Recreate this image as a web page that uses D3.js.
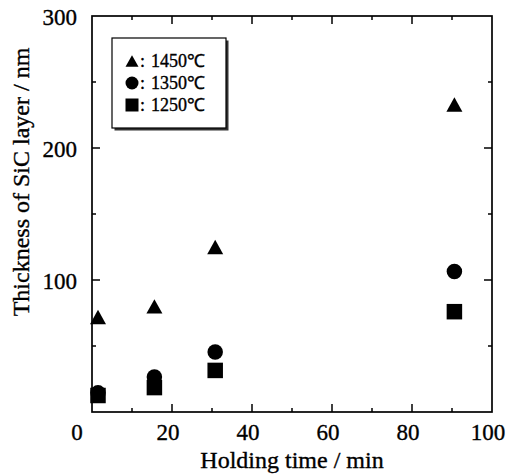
<!DOCTYPE html>
<html>
<head>
<meta charset="utf-8">
<script src="https://cdn.jsdelivr.net/npm/d3@7"></script>
<style>
  body { margin: 0; background: #fff; }
  text { font-family: "Liberation Serif", "Times New Roman", serif; fill: #000; stroke: #000; stroke-width: 0.35px; }
</style>
</head>
<body>
<svg id="chart" width="507" height="475"></svg>
<script>
// holding time (min) for each sample
var times = [1.5, 15.6, 30.8, 90.6];
// thickness of SiC layer (nm) per temperature
var t1450 = [72, 80, 125, 233];
var t1350 = [14.5, 26.5, 45.5, 106.5];
var t1250 = [12.5, 18.5, 31.5, 76];
var seriesNames = ["1450℃", "1350℃", "1250℃"];
var seriesShapes = ["triangle", "circle", "square"];
var xTicks = [0, 20, 40, 60, 80, 100];
var yTicks = [100, 200, 300];

var svg = d3.select("#chart");

var margin = { left: 92, top: 16, right: 15, bottom: 63 };
var width = 507 - margin.left - margin.right,
    height = 475 - margin.top - margin.bottom;

var xScale = d3.scaleLinear().domain([0, 100]).range([0, width]);
var yScale = d3.scaleLinear().domain([0, 300]).range([height, 0]);

var g = svg.append("g")
    .attr("transform", "translate(" + margin.left + "," + margin.top + ")");

// frame
g.append("rect")
    .attr("width", width)
    .attr("height", height)
    .attr("fill", "none")
    .attr("stroke", "#000")
    .attr("stroke-width", 1.7);

// inward ticks on all four sides
var xMinor = d3.range(10, 100, 20),
    yMinor = d3.range(50, 300, 100);

var tickLines = function (vals, len, isX) {
    vals.forEach(function (v) {
        if (isX) {
            var x = xScale(v);
            g.append("line").attr("x1", x).attr("x2", x)
                .attr("y1", height).attr("y2", height - len);
            g.append("line").attr("x1", x).attr("x2", x)
                .attr("y1", 0).attr("y2", len);
        } else {
            var y = yScale(v);
            g.append("line").attr("y1", y).attr("y2", y)
                .attr("x1", 0).attr("x2", len);
            g.append("line").attr("y1", y).attr("y2", y)
                .attr("x1", width).attr("x2", width - len);
        }
    });
};
tickLines(xTicks.slice(1, -1), 8, true);
tickLines(xMinor, 4, true);
tickLines(yTicks.slice(0, -1), 8, false);
tickLines(yMinor, 4, false);
g.selectAll("line").attr("stroke", "#000").attr("stroke-width", 1.5);

// tick labels
g.selectAll(".xlab")
    .data(xTicks)
    .enter().append("text")
    .attr("class", "xlab")
    .attr("x", function (d) { return xScale(d) - (d === 0 ? 15 : 4); })
    .attr("y", height + 28)
    .attr("text-anchor", "middle")
    .style("font-size", "23px")
    .text(function (d) { return d; });

g.selectAll(".ylab")
    .data(yTicks)
    .enter().append("text")
    .attr("class", "ylab")
    .attr("x", -15)
    .attr("y", function (d) { return yScale(d) + 9; })
    .attr("text-anchor", "end")
    .style("font-size", "23px")
    .text(function (d) { return d; });

// axis titles
svg.append("text")
    .attr("x", 292)
    .attr("y", 468)
    .attr("text-anchor", "middle")
    .style("font-size", "24px")
    .text("Holding time / min");

svg.append("text")
    .attr("transform", "translate(29,182) rotate(-90)")
    .attr("text-anchor", "middle")
    .style("font-size", "24px")
    .text("Thickness of SiC layer / nm");

// marker paths centred on their bounding box
var markerPath = function (shape, s) {
    var h = s / 2;
    if (shape === "triangle") {
        return "M0," + (-h * 0.9) + "L" + h + "," + (h * 0.9) + "L" + (-h) + "," + (h * 0.9) + "Z";
    }
    if (shape === "square") {
        return "M" + (-h) + "," + (-h) + "h" + s + "v" + s + "h" + (-s) + "Z";
    }
    return "M" + (-h) + ",0a" + h + "," + h + " 0 1,0 " + s + ",0a" + h + "," + h + " 0 1,0 " + (-s) + ",0Z";
};

var allSeries = [t1250, t1350, t1450];
var allShapes = ["square", "circle", "triangle"];

allSeries.forEach(function (vals, i) {
    g.selectAll(".pt" + i)
        .data(vals)
        .enter().append("path")
        .attr("class", "pt" + i)
        .attr("d", markerPath(allShapes[i], allShapes[i] === "triangle" ? 16 : 15.5))
        .attr("transform", function (d, j) {
            return "translate(" + xScale(times[j]) + "," + yScale(d) + ")";
        })
        .attr("fill", "#000");
});

// legend
var legend = svg.append("g").attr("transform", "translate(112,38)");
legend.append("rect")
    .attr("x", 2.5).attr("y", 2.5)
    .attr("width", 114).attr("height", 90)
    .attr("fill", "#333");
legend.append("rect")
    .attr("width", 114).attr("height", 90)
    .attr("fill", "#fff")
    .attr("stroke", "#000")
    .attr("stroke-width", 1.2);

seriesNames.forEach(function (name, i) {
    var cy = 23 + i * 22;
    legend.append("path")
        .attr("d", markerPath(seriesShapes[i], 13))
        .attr("transform", "translate(20," + cy + ")")
        .attr("fill", "#000");
    legend.append("text")
        .attr("x", 28)
        .attr("y", cy + 6)
        .style("font-size", "18px")
        .text(":");
    legend.append("text")
        .attr("x", 39)
        .attr("y", cy + 6)
        .attr("textLength", 54)
        .attr("lengthAdjust", "spacingAndGlyphs")
        .style("font-size", "18px")
        .text(name);
});
</script>
</body>
</html>
